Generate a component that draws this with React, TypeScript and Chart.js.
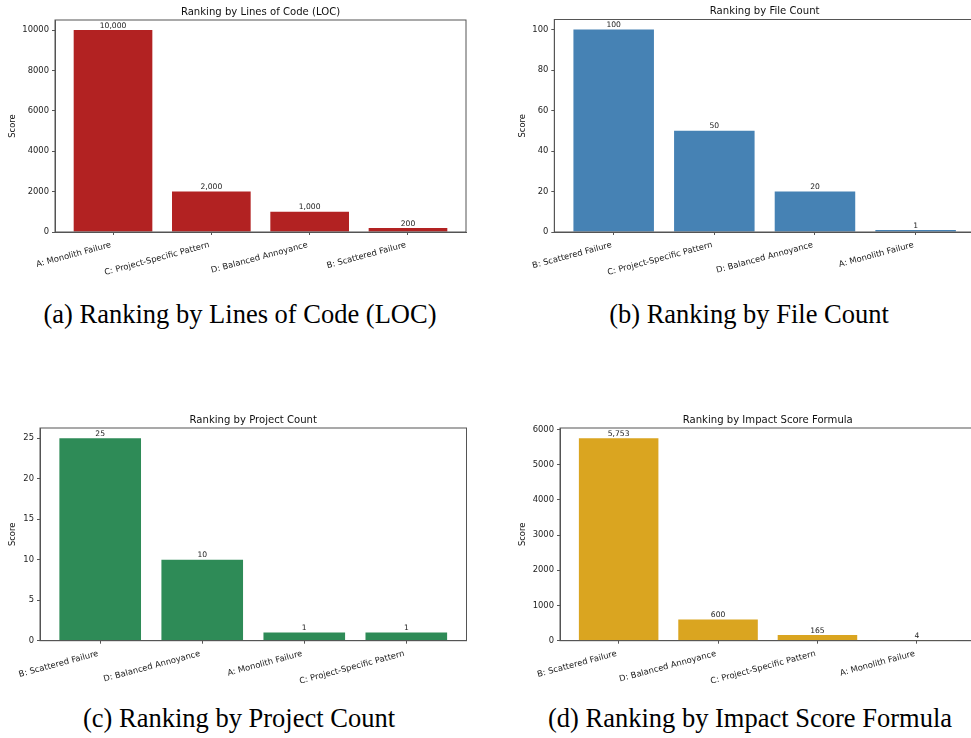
import React, { useEffect, useRef } from 'react';
import { Chart, registerables } from 'chart.js';

Chart.register(...registerables);

const FONT = "'DejaVu Sans', sans-serif";
const FRAME = '#555555';
const TEXT = '#222222';

// (a) Lines of Code
const locCategories = ['A: Monolith Failure', 'C: Project-Specific Pattern', 'D: Balanced Annoyance', 'B: Scattered Failure'];
const locValues = [10000, 2000, 1000, 200];
const locTicks = [0, 2000, 4000, 6000, 8000, 10000];

// (b) File Count
const fileCategories = ['B: Scattered Failure', 'C: Project-Specific Pattern', 'D: Balanced Annoyance', 'A: Monolith Failure'];
const fileValues = [100, 50, 20, 1];
const fileTicks = [0, 20, 40, 60, 80, 100];

// (c) Project Count
const projectCategories = ['B: Scattered Failure', 'D: Balanced Annoyance', 'A: Monolith Failure', 'C: Project-Specific Pattern'];
const projectValues = [25, 10, 1, 1];
const projectTicks = [0, 5, 10, 15, 20, 25];

// (d) Impact Score Formula
const impactCategories = ['B: Scattered Failure', 'D: Balanced Annoyance', 'C: Project-Specific Pattern', 'A: Monolith Failure'];
const impactValues = [5753, 600, 165, 4];
const impactTicks = [0, 1000, 2000, 3000, 4000, 5000, 6000];

type Area = { l: number; r: number; t: number; b: number };

type PanelProps = {
  title: string;
  cats: string[];
  vals: number[];
  yTicks: number[];
  color: string;
  left: number;
  top: number;
  width: number;
  height: number;
  area: Area; // chart area relative to the canvas
  scoreX: number; // centre of the y-axis title relative to the canvas
};

function Panel(p: PanelProps) {
  const ref = useRef<HTMLCanvasElement>(null);
  useEffect(() => {
    if (!ref.current) return;
    const titleSize = 10.1;
    const titleBlock = titleSize * 1.2 + 2;
    const yMax = Math.max(...p.vals) * 1.05;
    const n = p.cats.length;
    const xMin = -0.4 - (n - 1 + 0.8) * 0.05;
    const xMax = n - 1 + 0.4 + (n - 1 + 0.8) * 0.05;

    const framePlugin = {
      id: 'frame',
      afterDraw(chart: any) {
        const { ctx, chartArea: a } = chart;
        ctx.save();
        ctx.strokeStyle = FRAME;
        ctx.lineWidth = 1;
        ctx.strokeRect(a.left, a.top, a.right - a.left, a.bottom - a.top);
        ctx.restore();
      },
    };
    const valueLabels = {
      id: 'valueLabels',
      afterDatasetsDraw(chart: any) {
        const { ctx } = chart;
        const meta = chart.getDatasetMeta(0);
        const data = chart.data.datasets[0].data as any[];
        ctx.save();
        ctx.font = `7.6px ${FONT}`;
        ctx.fillStyle = TEXT;
        ctx.textAlign = 'center';
        ctx.textBaseline = 'bottom';
        meta.data.forEach((el: any, i: number) => {
          ctx.fillText(Number(data[i].y).toLocaleString('en-US'), el.x, el.y - 0.5);
        });
        ctx.restore();
      },
    };

    const chart = new Chart(ref.current, {
      type: 'bar',
      data: {
        datasets: [
          {
            data: p.vals.map((v, i) => ({ x: i, y: v })),
            backgroundColor: p.color,
            borderWidth: 0,
            categoryPercentage: 0.8,
            barPercentage: 1,
          } as any,
        ],
      },
      options: {
        animation: false,
        responsive: false,
        devicePixelRatio: 1,
        layout: {
          padding: { left: 0, right: p.width - p.area.r, top: p.area.t - titleBlock, bottom: 0 },
        },
        plugins: {
          legend: { display: false },
          tooltip: { enabled: false },
          title: {
            display: true,
            text: p.title,
            fullSize: false,
            color: '#111111',
            font: { size: titleSize, family: FONT, weight: 'normal', lineHeight: 1.2 },
            padding: { top: 0, bottom: 2 },
          },
        },
        scales: {
          x: {
            type: 'linear',
            min: xMin,
            max: xMax,
            offset: false,
            grid: { drawOnChartArea: false, drawTicks: true, tickLength: 3, color: FRAME, offset: false },
            border: { display: true, color: FRAME },
            ticks: {
              autoSkip: false,
              minRotation: 15,
              maxRotation: 15,
              padding: 5,
              labelOffset: -2,
              color: TEXT,
              font: { size: 8.4, family: FONT },
              callback: (v: any) => p.cats[v] ?? '',
            },
            afterBuildTicks: (s: any) => {
              s.ticks = p.cats.map((_, i) => ({ value: i }));
            },
            afterFit: (s: any) => {
              s.height = p.height - p.area.b;
            },
          },
          y: {
            min: 0,
            max: yMax,
            grid: { drawOnChartArea: false, drawTicks: true, tickLength: 3, color: FRAME },
            border: { display: true, color: FRAME },
            ticks: {
              padding: 3,
              color: TEXT,
              font: { size: 8.4, family: FONT },
              callback: (v: any) => String(v),
            },
            afterBuildTicks: (s: any) => {
              s.ticks = p.yTicks.map((v) => ({ value: v }));
            },
            afterFit: (s: any) => {
              s.width = p.area.l;
            },
            title: {
              display: true,
              text: 'Score',
              color: '#111111',
              font: { size: 8.4, family: FONT, lineHeight: 1.2 },
              padding: { top: p.scoreX - 5.04, bottom: 0 },
            },
          },
        },
      } as any,
      plugins: [framePlugin, valueLabels],
    });
    return () => chart.destroy();
  }, []);
  return (
    <canvas
      ref={ref}
      width={p.width}
      height={p.height}
      style={{ position: 'absolute', left: p.left, top: p.top, width: p.width, height: p.height }}
    />
  );
}

function Caption({ text, cx, top }: { text: string; cx: number; top: number }) {
  return (
    <div
      style={{
        position: 'absolute',
        left: cx - 300,
        top,
        width: 600,
        textAlign: 'center',
        fontFamily: "'Liberation Serif', 'Times New Roman', serif",
        fontSize: 26.5,
        lineHeight: '26px',
        color: '#000',
        whiteSpace: 'nowrap',
      }}
    >
      {text}
    </div>
  );
}

export default function App() {
  return (
    <div
      style={{
        position: 'fixed',
        left: 0,
        top: 0,
        width: 971,
        height: 738,
        overflow: 'hidden',
        background: '#ffffff',
      }}
    >
      <Panel
        title="Ranking by Lines of Code (LOC)"
        cats={locCategories}
        vals={locValues}
        yTicks={locTicks}
        color="#B22222"
        left={0}
        top={0}
        width={480}
        height={295}
        area={{ l: 55, r: 466, t: 20, b: 232 }}
        scoreX={13}
      />
      <Panel
        title="Ranking by File Count"
        cats={fileCategories}
        vals={fileValues}
        yTicks={fileTicks}
        color="#4682B4"
        left={490}
        top={0}
        width={490}
        height={295}
        area={{ l: 64.3, r: 485, t: 19.5, b: 232 }}
        scoreX={33}
      />
      <Panel
        title="Ranking by Project Count"
        cats={projectCategories}
        vals={projectValues}
        yTicks={projectTicks}
        color="#2E8B57"
        left={0}
        top={400}
        width={480}
        height={300}
        area={{ l: 40, r: 466.5, t: 28, b: 240.7 }}
        scoreX={13}
      />
      <Panel
        title="Ranking by Impact Score Formula"
        cats={impactCategories}
        vals={impactValues}
        yTicks={impactTicks}
        color="#DAA520"
        left={490}
        top={400}
        width={490}
        height={300}
        area={{ l: 70, r: 485.5, t: 28, b: 240.7 }}
        scoreX={33}
      />
      <Caption text="(a) Ranking by Lines of Code (LOC)" cx={240} top={301} />
      <Caption text="(b) Ranking by File Count" cx={749} top={301} />
      <Caption text="(c) Ranking by Project Count" cx={239} top={705} />
      <Caption text="(d) Ranking by Impact Score Formula" cx={750} top={705} />
    </div>
  );
}
